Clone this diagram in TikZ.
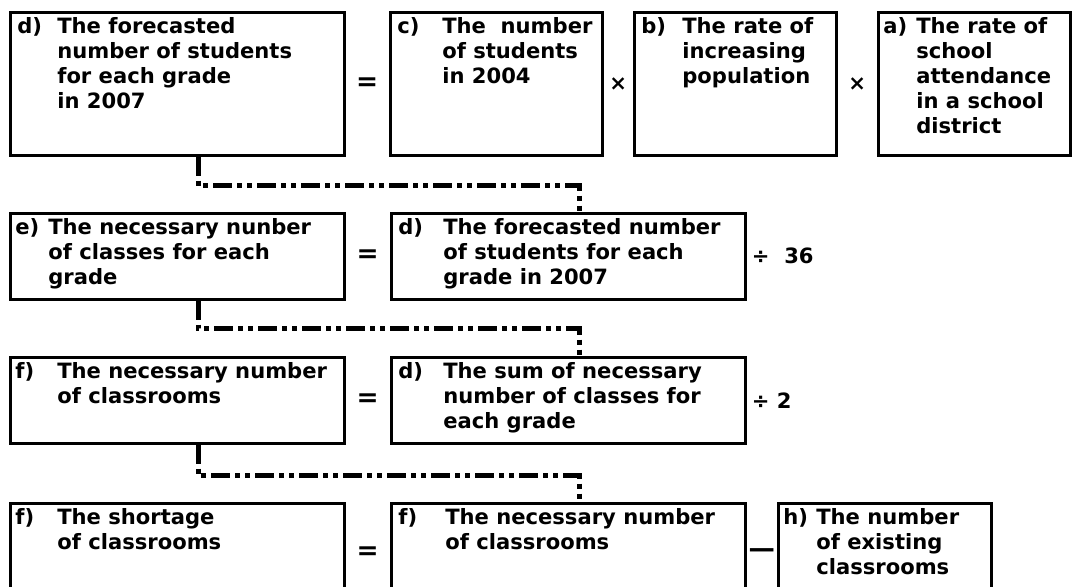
\documentclass[tikz,border=0pt]{standalone}
\usepackage{fontspec}
\setmainfont{DejaVu Sans}
\usetikzlibrary{positioning,calc}
\newcommand{\eqfont}{\fontsize{12}{14.2}\selectfont\bfseries}
\newcommand{\lbl}[3]{\begin{tabular}[t]{@{}p{#1}@{}l@{}}#2 & #3\end{tabular}}
\tikzset{
  eqbox/.style={rectangle, draw=black, line width=1.5pt, inner sep=0pt, anchor=north west},
  eqtxt/.style={anchor=base west, inner sep=0pt, font=\eqfont},
  op/.style={inner sep=0pt, font=\eqfont},
  bigop/.style={inner sep=0pt, font=\fontsize{15}{16}\selectfont\bfseries},
  link/.style={line width=2.6pt, dash pattern=on 0.38cm off 0.1cm on 0.1cm off 0.1cm on 0.1cm off 0.1cm}
}
\begin{document}
\begin{tikzpicture}[x=0.02cm, y=-0.02cm]
\fill[white] (0,0) rectangle (1072,586);
\useasboundingbox (0,0) rectangle (1072,586);
\clip (0,0) rectangle (1072,586);
% row 1: forecast
\node[eqbox, minimum width=6.68cm, minimum height=2.86cm] (fc) at (9,11) {};
\node[eqbox, minimum width=4.24cm, minimum height=2.86cm] (now) at (389,11) {};
\node[eqbox, minimum width=4.04cm, minimum height=2.86cm] (rate) at (633,11) {};
\node[eqbox, minimum width=3.84cm, minimum height=2.86cm] (att) at (877,11) {};
\node[eqtxt] (fc-t) at ([xshift=0.16cm, yshift=-0.45cm]fc.north west)
  {\lbl{0.8cm}{d)}{The forecasted\\ & number of students\\ & for each grade\\ & in 2007}};
\node[eqtxt] (now-t) at ([xshift=0.16cm, yshift=-0.45cm]now.north west)
  {\lbl{0.9cm}{c)}{The\ \ number\\ & of students\\ & in 2004}};
\node[eqtxt] (rate-t) at ([xshift=0.16cm, yshift=-0.45cm]rate.north west)
  {\lbl{0.82cm}{b)}{The rate of\\ & increasing\\ & population}};
\node[eqtxt] (att-t) at ([xshift=0.12cm, yshift=-0.45cm]att.north west)
  {\lbl{0.66cm}{a)}{The rate of\\ & school\\ & attendance\\ & in a school\\ & district}};
\node[bigop] (eq1) at ($(fc.east)!0.5!(now.west)$) {=};
\node[op] (mul1) at ($(now.east)!0.5!(rate.west)$) {×};
\node[op] (mul2) at ($(rate.east)!0.5!(att.west)$) {×};

% row 2: classes
\node[eqbox, minimum width=6.68cm, minimum height=1.72cm] (cls) at (9,212) {};
\node[eqbox, minimum width=7.08cm, minimum height=1.72cm] (fc2) at (390,212) {};
\node[eqtxt] (cls-t) at ([xshift=0.12cm, yshift=-0.45cm]cls.north west)
  {\lbl{0.66cm}{e)}{The necessary nunber\\ & of classes for each\\ & grade}};
\node[eqtxt] (fc2-t) at ([xshift=0.16cm, yshift=-0.45cm]fc2.north west)
  {\lbl{0.9cm}{d)}{The forecasted number\\ & of students for each\\ & grade in 2007}};
\node[bigop] (eq2) at ($(cls.east)!0.5!(fc2.west)$) {=};
\node[op, anchor=west] (div1) at ([xshift=0.1cm]fc2.east) {÷\ \ 36};

% row 3: classrooms
\node[eqbox, minimum width=6.68cm, minimum height=1.72cm] (room) at (9,356) {};
\node[eqbox, minimum width=7.08cm, minimum height=1.72cm] (sum) at (390,356) {};
\node[eqtxt] (room-t) at ([xshift=0.12cm, yshift=-0.45cm]room.north west)
  {\lbl{0.84cm}{f)}{The necessary number\\ & of classrooms}};
\node[eqtxt] (sum-t) at ([xshift=0.16cm, yshift=-0.45cm]sum.north west)
  {\lbl{0.9cm}{d)}{The sum of necessary\\ & number of classes for\\ & each grade}};
\node[bigop] (eq3) at ($(room.east)!0.5!(sum.west)$) {=};
\node[op, anchor=west] (div2) at ([xshift=0.1cm]sum.east) {÷\ 2};

% row 4: shortage
\node[eqbox, minimum width=6.68cm, minimum height=2cm] (short) at (9,502) {};
\node[eqbox, minimum width=7.08cm, minimum height=2cm] (room2) at (390,502) {};
\node[eqbox, minimum width=4.26cm, minimum height=2cm] (exist) at (777,502) {};
\node[eqtxt] (short-t) at ([xshift=0.12cm, yshift=-0.45cm]short.north west)
  {\lbl{0.84cm}{f)}{The shortage\\ & of classrooms}};
\node[eqtxt] (room2-t) at ([xshift=0.16cm, yshift=-0.45cm]room2.north west)
  {\lbl{0.94cm}{f)}{The necessary number\\ & of classrooms}};
\node[eqtxt] (exist-t) at ([xshift=0.12cm, yshift=-0.45cm]exist.north west)
  {\lbl{0.66cm}{h)}{The number\\ & of existing\\ & classrooms}};
\node[bigop] (eq4) at ($(short.east)!0.5!(room2.west)$) {=};
\node[bigop] (minus) at ($(room2.east)!0.5!(exist.west)$) {—};

% links between rows
\draw[link] ([xshift=0.42cm]fc.south) -- ++(0,29) -| ([xshift=0.22cm]fc2.north);
\draw[link] ([xshift=0.42cm]cls.south) -- ++(0,28) -| ([xshift=0.22cm]sum.north);
\draw[link] ([xshift=0.42cm]room.south) -- ++(0,31) -| ([xshift=0.22cm]room2.north);
\end{tikzpicture}
\end{document}
